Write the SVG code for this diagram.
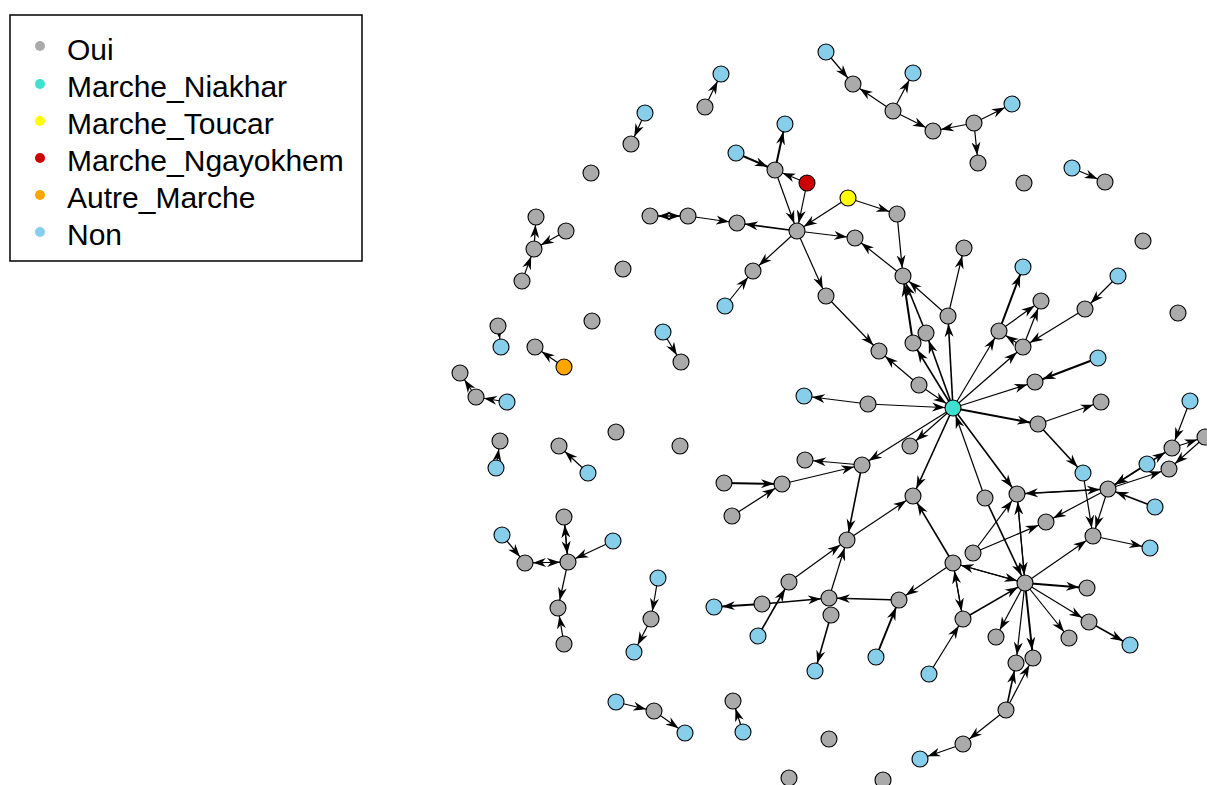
<svg xmlns="http://www.w3.org/2000/svg" width="1207" height="785" viewBox="0 0 1207 785">
<style>
.e line{stroke:#000;stroke-width:1.2;marker-end:url(#ah)}
.nd circle{stroke:#000;stroke-width:1.1}
.g circle{fill:#aaaaaa}
.b circle{fill:#87ceeb}
.t circle{fill:#40e0d0}
.y circle{fill:#ffff00}
.r circle{fill:#cd0000}
.o circle{fill:#ffa500}
.lg text{font-family:"Liberation Sans",Arial,sans-serif;font-size:30px;fill:#000}
</style>
<defs>
<marker id="ah" viewBox="0 0 21 10" markerWidth="21" markerHeight="10" refX="21" refY="5" orient="auto" markerUnits="userSpaceOnUse">
<path d="M0,0.5 L13,5 L0,9.5 L4,5 z" fill="#000"/>
</marker>
</defs>
<rect width="1207" height="785" fill="#fff"/>
<g id="legend" class="lg">
<rect x="10" y="15" width="352" height="246" fill="#fff" stroke="#000" stroke-width="1.5"/>
<circle cx="40" cy="46" r="5" fill="#aaaaaa"/><text x="67" y="60">Oui</text>
<circle cx="40" cy="84" r="5" fill="#40e0d0"/><text x="67" y="97">Marche_Niakhar</text>
<circle cx="40" cy="121" r="5" fill="#ffff00"/><text x="67" y="134">Marche_Toucar</text>
<circle cx="40" cy="158" r="5" fill="#cd0000"/><text x="67" y="171">Marche_Ngayokhem</text>
<circle cx="40" cy="195" r="5" fill="#ffa500"/><text x="67" y="208">Autre_Marche</text>
<circle cx="40" cy="232" r="5" fill="#87ceeb"/><text x="67" y="245">Non</text>
</g>
<g id="edges" class="e">
<line x1="826" y1="52" x2="853" y2="84"/>
<line x1="893" y1="111" x2="853" y2="84"/>
<line x1="893" y1="111" x2="913" y2="73"/>
<line x1="893" y1="111" x2="933" y2="131"/>
<line x1="974" y1="123" x2="933" y2="131"/>
<line x1="974" y1="123" x2="1012" y2="104"/>
<line x1="974" y1="123" x2="978" y2="163"/>
<line x1="1072" y1="168" x2="1105" y2="182"/>
<line x1="948" y1="316" x2="964" y2="248"/>
<line x1="999" y1="331" x2="1023" y2="267" style="stroke-width:2"/>
<line x1="1118" y1="276" x2="1085" y2="309"/>
<line x1="705" y1="107" x2="721" y2="74"/>
<line x1="645" y1="113" x2="631" y2="144"/>
<line x1="534" y1="249" x2="536" y2="217"/>
<line x1="566" y1="231" x2="534" y2="249"/>
<line x1="522" y1="281" x2="534" y2="249"/>
<line x1="650" y1="216" x2="688" y2="216"/>
<line x1="688" y1="216" x2="650" y2="216"/>
<line x1="688" y1="216" x2="737" y2="223"/>
<line x1="736" y1="153" x2="775" y2="170" style="stroke-width:2"/>
<line x1="775" y1="170" x2="785" y2="124" style="stroke-width:2"/>
<line x1="807" y1="183" x2="775" y2="170"/>
<line x1="807" y1="183" x2="797" y2="231"/>
<line x1="775" y1="170" x2="797" y2="231"/>
<line x1="848" y1="198" x2="797" y2="231"/>
<line x1="848" y1="198" x2="897" y2="214"/>
<line x1="797" y1="231" x2="737" y2="223" style="stroke-width:1.6"/>
<line x1="797" y1="231" x2="855" y2="238"/>
<line x1="797" y1="231" x2="753" y2="271"/>
<line x1="797" y1="231" x2="826" y2="296"/>
<line x1="725" y1="306" x2="753" y2="271"/>
<line x1="897" y1="214" x2="903" y2="276"/>
<line x1="903" y1="276" x2="855" y2="238"/>
<line x1="948" y1="316" x2="903" y2="276"/>
<line x1="913" y1="343" x2="903" y2="276" style="stroke-width:2"/>
<line x1="926" y1="333" x2="903" y2="276" style="stroke-width:1.6"/>
<line x1="953" y1="408" x2="913" y2="343" style="stroke-width:1.6"/>
<line x1="953" y1="408" x2="926" y2="333" style="stroke-width:1.6"/>
<line x1="953" y1="408" x2="948" y2="316" style="stroke-width:1.6"/>
<line x1="919" y1="385" x2="879" y2="351"/>
<line x1="826" y1="296" x2="879" y2="351"/>
<line x1="919" y1="385" x2="953" y2="408"/>
<line x1="868" y1="404" x2="953" y2="408"/>
<line x1="868" y1="404" x2="804" y2="396"/>
<line x1="953" y1="408" x2="999" y2="331"/>
<line x1="999" y1="331" x2="1041" y2="301"/>
<line x1="1023" y1="347" x2="1041" y2="301"/>
<line x1="1023" y1="347" x2="999" y2="331"/>
<line x1="953" y1="408" x2="1023" y2="347"/>
<line x1="1085" y1="309" x2="1023" y2="347"/>
<line x1="1098" y1="358" x2="1035" y2="382" style="stroke-width:2"/>
<line x1="953" y1="408" x2="1035" y2="382"/>
<line x1="953" y1="408" x2="1038" y2="424" style="stroke-width:2"/>
<line x1="1038" y1="424" x2="1101" y2="402"/>
<line x1="1038" y1="424" x2="1083" y2="473" style="stroke-width:1.6"/>
<line x1="1190" y1="401" x2="1172" y2="448"/>
<line x1="1147" y1="464" x2="1172" y2="448"/>
<line x1="1172" y1="448" x2="1205" y2="437"/>
<line x1="1205" y1="437" x2="1169" y2="469"/>
<line x1="1108" y1="489" x2="1169" y2="469"/>
<line x1="1172" y1="448" x2="1108" y2="489"/>
<line x1="1147" y1="464" x2="1108" y2="489" style="stroke-width:1.6"/>
<line x1="1155" y1="507" x2="1108" y2="489" style="stroke-width:1.6"/>
<line x1="953" y1="408" x2="1017" y2="494" style="stroke-width:1.6"/>
<line x1="1108" y1="489" x2="1017" y2="494" style="stroke-width:1.6"/>
<line x1="1017" y1="494" x2="1108" y2="489"/>
<line x1="985" y1="498" x2="953" y2="408"/>
<line x1="985" y1="498" x2="1025" y2="583" style="stroke-width:1.6"/>
<line x1="1108" y1="489" x2="1046" y2="522"/>
<line x1="1108" y1="489" x2="1093" y2="536"/>
<line x1="1083" y1="473" x2="1093" y2="536"/>
<line x1="973" y1="553" x2="1046" y2="522"/>
<line x1="973" y1="553" x2="1017" y2="494"/>
<line x1="953" y1="563" x2="913" y2="496" style="stroke-width:1.6"/>
<line x1="1025" y1="583" x2="953" y2="563"/>
<line x1="953" y1="563" x2="1025" y2="583"/>
<line x1="953" y1="408" x2="913" y2="496" style="stroke-width:1.6"/>
<line x1="847" y1="540" x2="913" y2="496"/>
<line x1="862" y1="465" x2="847" y2="540" style="stroke-width:1.6"/>
<line x1="953" y1="408" x2="862" y2="465"/>
<line x1="862" y1="465" x2="805" y2="460"/>
<line x1="782" y1="484" x2="862" y2="465"/>
<line x1="724" y1="483" x2="782" y2="484" style="stroke-width:2"/>
<line x1="732" y1="516" x2="782" y2="484"/>
<line x1="953" y1="408" x2="910" y2="446"/>
<line x1="789" y1="582" x2="847" y2="540"/>
<line x1="758" y1="636" x2="789" y2="582" style="stroke-width:1.6"/>
<line x1="762" y1="604" x2="714" y2="607" style="stroke-width:2"/>
<line x1="762" y1="604" x2="829" y2="598" style="stroke-width:1.6"/>
<line x1="829" y1="598" x2="847" y2="540"/>
<line x1="899" y1="600" x2="829" y2="598" style="stroke-width:1.6"/>
<line x1="876" y1="657" x2="899" y2="600" style="stroke-width:2"/>
<line x1="953" y1="563" x2="899" y2="600"/>
<line x1="831" y1="615" x2="815" y2="671" style="stroke-width:1.6"/>
<line x1="929" y1="674" x2="963" y2="619"/>
<line x1="743" y1="732" x2="733" y2="701"/>
<line x1="963" y1="744" x2="920" y2="759"/>
<line x1="1025" y1="583" x2="1093" y2="536"/>
<line x1="1093" y1="536" x2="1150" y2="548"/>
<line x1="1025" y1="583" x2="1087" y2="588" style="stroke-width:2"/>
<line x1="1025" y1="583" x2="1089" y2="622"/>
<line x1="1089" y1="622" x2="1130" y2="645" style="stroke-width:1.6"/>
<line x1="1025" y1="583" x2="1069" y2="638"/>
<line x1="1025" y1="583" x2="996" y2="637"/>
<line x1="1025" y1="583" x2="1016" y2="663"/>
<line x1="1025" y1="583" x2="1033" y2="658" style="stroke-width:2"/>
<line x1="1006" y1="710" x2="1016" y2="663" style="stroke-width:1.6"/>
<line x1="1006" y1="710" x2="1033" y2="658"/>
<line x1="1006" y1="710" x2="963" y2="744"/>
<line x1="963" y1="619" x2="1025" y2="583" style="stroke-width:1.6"/>
<line x1="953" y1="563" x2="963" y2="619"/>
<line x1="963" y1="619" x2="953" y2="563"/>
<line x1="1017" y1="494" x2="1025" y2="583"/>
<line x1="1025" y1="583" x2="1017" y2="494"/>
<line x1="663" y1="332" x2="681" y2="362"/>
<line x1="498" y1="326" x2="501" y2="347"/>
<line x1="564" y1="367" x2="535" y2="347"/>
<line x1="507" y1="402" x2="476" y2="397"/>
<line x1="476" y1="397" x2="460" y2="373"/>
<line x1="496" y1="468" x2="500" y2="441"/>
<line x1="588" y1="473" x2="559" y2="446"/>
<line x1="568" y1="562" x2="564" y2="517"/>
<line x1="564" y1="517" x2="568" y2="562"/>
<line x1="525" y1="563" x2="568" y2="562"/>
<line x1="568" y1="562" x2="525" y2="563"/>
<line x1="502" y1="535" x2="525" y2="563"/>
<line x1="613" y1="541" x2="568" y2="562"/>
<line x1="568" y1="562" x2="558" y2="608"/>
<line x1="564" y1="644" x2="558" y2="608"/>
<line x1="658" y1="578" x2="651" y2="619"/>
<line x1="651" y1="619" x2="634" y2="652"/>
<line x1="616" y1="702" x2="654" y2="711"/>
<line x1="654" y1="711" x2="685" y2="733"/>
</g>
<g id="nodes" class="nd">
<g id="n1" class="b"><circle cx="826" cy="52" r="8"/></g>
<g id="n2" class="g"><circle cx="853" cy="84" r="8"/></g>
<g id="n3" class="g"><circle cx="893" cy="111" r="8"/></g>
<g id="n4" class="b"><circle cx="913" cy="73" r="8"/></g>
<g id="n5" class="g"><circle cx="933" cy="131" r="8"/></g>
<g id="n6" class="g"><circle cx="974" cy="123" r="8"/></g>
<g id="n7" class="b"><circle cx="1012" cy="104" r="8"/></g>
<g id="n8" class="g"><circle cx="978" cy="163" r="8"/></g>
<g id="n9" class="g"><circle cx="1024" cy="183" r="8"/></g>
<g id="n10" class="b"><circle cx="1072" cy="168" r="8"/></g>
<g id="n11" class="g"><circle cx="1105" cy="182" r="8"/></g>
<g id="n12" class="g"><circle cx="1143" cy="241" r="8"/></g>
<g id="n13" class="g"><circle cx="964" cy="248" r="8"/></g>
<g id="n14" class="b"><circle cx="1023" cy="267" r="8"/></g>
<g id="n15" class="b"><circle cx="1118" cy="276" r="8"/></g>
<g id="n16" class="b"><circle cx="721" cy="74" r="8"/></g>
<g id="n17" class="g"><circle cx="705" cy="107" r="8"/></g>
<g id="n18" class="b"><circle cx="645" cy="113" r="8"/></g>
<g id="n19" class="g"><circle cx="631" cy="144" r="8"/></g>
<g id="n20" class="g"><circle cx="591" cy="173" r="8"/></g>
<g id="n21" class="g"><circle cx="536" cy="217" r="8"/></g>
<g id="n22" class="g"><circle cx="566" cy="231" r="8"/></g>
<g id="n23" class="g"><circle cx="534" cy="249" r="8"/></g>
<g id="n24" class="g"><circle cx="522" cy="281" r="8"/></g>
<g id="n25" class="g"><circle cx="650" cy="216" r="8"/></g>
<g id="n26" class="g"><circle cx="688" cy="216" r="8"/></g>
<g id="n27" class="g"><circle cx="623" cy="269" r="8"/></g>
<g id="n28" class="b"><circle cx="736" cy="153" r="8"/></g>
<g id="n29" class="g"><circle cx="775" cy="170" r="8"/></g>
<g id="n30" class="b"><circle cx="785" cy="124" r="8"/></g>
<g id="n31" class="r"><circle cx="807" cy="183" r="8"/></g>
<g id="n32" class="g"><circle cx="797" cy="231" r="8"/></g>
<g id="n33" class="y"><circle cx="848" cy="198" r="8"/></g>
<g id="n34" class="g"><circle cx="897" cy="214" r="8"/></g>
<g id="n35" class="g"><circle cx="737" cy="223" r="8"/></g>
<g id="n36" class="g"><circle cx="855" cy="238" r="8"/></g>
<g id="n37" class="g"><circle cx="753" cy="271" r="8"/></g>
<g id="n38" class="g"><circle cx="826" cy="296" r="8"/></g>
<g id="n39" class="b"><circle cx="725" cy="306" r="8"/></g>
<g id="n40" class="g"><circle cx="903" cy="276" r="8"/></g>
<g id="n41" class="g"><circle cx="948" cy="316" r="8"/></g>
<g id="n42" class="g"><circle cx="913" cy="343" r="8"/></g>
<g id="n43" class="g"><circle cx="926" cy="333" r="8"/></g>
<g id="n44" class="g"><circle cx="919" cy="385" r="8"/></g>
<g id="n46" class="g"><circle cx="879" cy="351" r="8"/></g>
<g id="n47" class="g"><circle cx="868" cy="404" r="8"/></g>
<g id="n48" class="b"><circle cx="804" cy="396" r="8"/></g>
<g id="n49" class="g"><circle cx="999" cy="331" r="8"/></g>
<g id="n50" class="g"><circle cx="1041" cy="301" r="8"/></g>
<g id="n51" class="g"><circle cx="1023" cy="347" r="8"/></g>
<g id="n52" class="g"><circle cx="1085" cy="309" r="8"/></g>
<g id="n53" class="b"><circle cx="1098" cy="358" r="8"/></g>
<g id="n54" class="g"><circle cx="1035" cy="382" r="8"/></g>
<g id="n55" class="g"><circle cx="1038" cy="424" r="8"/></g>
<g id="n56" class="g"><circle cx="1101" cy="402" r="8"/></g>
<g id="n57" class="b"><circle cx="1083" cy="473" r="8"/></g>
<g id="n58" class="g"><circle cx="1178" cy="313" r="8"/></g>
<g id="n59" class="b"><circle cx="1190" cy="401" r="8"/></g>
<g id="n60" class="g"><circle cx="1172" cy="448" r="8"/></g>
<g id="n61" class="g"><circle cx="1205" cy="437" r="8"/></g>
<g id="n62" class="g"><circle cx="1169" cy="469" r="8"/></g>
<g id="n63" class="b"><circle cx="1147" cy="464" r="8"/></g>
<g id="n64" class="g"><circle cx="1108" cy="489" r="8"/></g>
<g id="n65" class="b"><circle cx="1155" cy="507" r="8"/></g>
<g id="n66" class="g"><circle cx="1017" cy="494" r="8"/></g>
<g id="n67" class="g"><circle cx="985" cy="498" r="8"/></g>
<g id="n68" class="g"><circle cx="1046" cy="522" r="8"/></g>
<g id="n69" class="g"><circle cx="973" cy="553" r="8"/></g>
<g id="n70" class="g"><circle cx="953" cy="563" r="8"/></g>
<g id="n71" class="g"><circle cx="913" cy="496" r="8"/></g>
<g id="n72" class="g"><circle cx="847" cy="540" r="8"/></g>
<g id="n73" class="g"><circle cx="862" cy="465" r="8"/></g>
<g id="n74" class="g"><circle cx="805" cy="460" r="8"/></g>
<g id="n75" class="g"><circle cx="782" cy="484" r="8"/></g>
<g id="n76" class="g"><circle cx="724" cy="483" r="8"/></g>
<g id="n77" class="g"><circle cx="732" cy="516" r="8"/></g>
<g id="n78" class="g"><circle cx="910" cy="446" r="8"/></g>
<g id="n79" class="g"><circle cx="789" cy="582" r="8"/></g>
<g id="n80" class="g"><circle cx="762" cy="604" r="8"/></g>
<g id="n81" class="b"><circle cx="714" cy="607" r="8"/></g>
<g id="n82" class="g"><circle cx="829" cy="598" r="8"/></g>
<g id="n83" class="g"><circle cx="831" cy="615" r="8"/></g>
<g id="n84" class="b"><circle cx="758" cy="636" r="8"/></g>
<g id="n85" class="g"><circle cx="899" cy="600" r="8"/></g>
<g id="n86" class="b"><circle cx="876" cy="657" r="8"/></g>
<g id="n87" class="b"><circle cx="815" cy="671" r="8"/></g>
<g id="n88" class="b"><circle cx="929" cy="674" r="8"/></g>
<g id="n89" class="g"><circle cx="733" cy="701" r="8"/></g>
<g id="n90" class="b"><circle cx="743" cy="732" r="8"/></g>
<g id="n91" class="g"><circle cx="829" cy="739" r="8"/></g>
<g id="n92" class="g"><circle cx="789" cy="778" r="8"/></g>
<g id="n93" class="g"><circle cx="883" cy="780" r="8"/></g>
<g id="n94" class="b"><circle cx="920" cy="759" r="8"/></g>
<g id="n95" class="g"><circle cx="1093" cy="536" r="8"/></g>
<g id="n96" class="b"><circle cx="1150" cy="548" r="8"/></g>
<g id="n97" class="g"><circle cx="1025" cy="583" r="8"/></g>
<g id="n98" class="g"><circle cx="1087" cy="588" r="8"/></g>
<g id="n99" class="g"><circle cx="963" cy="619" r="8"/></g>
<g id="n100" class="g"><circle cx="996" cy="637" r="8"/></g>
<g id="n101" class="g"><circle cx="1069" cy="638" r="8"/></g>
<g id="n102" class="g"><circle cx="1089" cy="622" r="8"/></g>
<g id="n103" class="b"><circle cx="1130" cy="645" r="8"/></g>
<g id="n104" class="g"><circle cx="1016" cy="663" r="8"/></g>
<g id="n105" class="g"><circle cx="1033" cy="658" r="8"/></g>
<g id="n106" class="g"><circle cx="1006" cy="710" r="8"/></g>
<g id="n107" class="g"><circle cx="963" cy="744" r="8"/></g>
<g id="n108" class="g"><circle cx="592" cy="321" r="8"/></g>
<g id="n109" class="b"><circle cx="663" cy="332" r="8"/></g>
<g id="n110" class="g"><circle cx="681" cy="362" r="8"/></g>
<g id="n111" class="g"><circle cx="498" cy="326" r="8"/></g>
<g id="n112" class="b"><circle cx="501" cy="347" r="8"/></g>
<g id="n113" class="g"><circle cx="535" cy="347" r="8"/></g>
<g id="n114" class="o"><circle cx="564" cy="367" r="8"/></g>
<g id="n115" class="g"><circle cx="460" cy="373" r="8"/></g>
<g id="n116" class="g"><circle cx="476" cy="397" r="8"/></g>
<g id="n117" class="b"><circle cx="507" cy="402" r="8"/></g>
<g id="n118" class="g"><circle cx="500" cy="441" r="8"/></g>
<g id="n119" class="b"><circle cx="496" cy="468" r="8"/></g>
<g id="n120" class="g"><circle cx="559" cy="446" r="8"/></g>
<g id="n121" class="b"><circle cx="588" cy="473" r="8"/></g>
<g id="n122" class="g"><circle cx="616" cy="432" r="8"/></g>
<g id="n123" class="g"><circle cx="680" cy="446" r="8"/></g>
<g id="n124" class="g"><circle cx="564" cy="517" r="8"/></g>
<g id="n125" class="g"><circle cx="568" cy="562" r="8"/></g>
<g id="n126" class="g"><circle cx="525" cy="563" r="8"/></g>
<g id="n127" class="b"><circle cx="502" cy="535" r="8"/></g>
<g id="n128" class="b"><circle cx="613" cy="541" r="8"/></g>
<g id="n129" class="g"><circle cx="558" cy="608" r="8"/></g>
<g id="n130" class="g"><circle cx="564" cy="644" r="8"/></g>
<g id="n131" class="b"><circle cx="658" cy="578" r="8"/></g>
<g id="n132" class="g"><circle cx="651" cy="619" r="8"/></g>
<g id="n133" class="b"><circle cx="634" cy="652" r="8"/></g>
<g id="n134" class="b"><circle cx="616" cy="702" r="8"/></g>
<g id="n135" class="g"><circle cx="654" cy="711" r="8"/></g>
<g id="n136" class="b"><circle cx="685" cy="733" r="8"/></g>
<g id="n45" class="t"><circle cx="953" cy="408" r="8"/></g>
</g>
</svg>
